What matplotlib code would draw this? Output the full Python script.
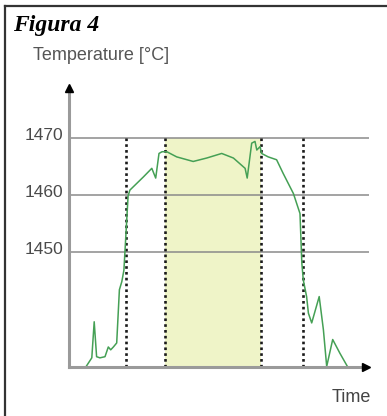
import matplotlib
matplotlib.use("Agg")
import matplotlib.pyplot as plt
from matplotlib.lines import Line2D
from matplotlib.transforms import ScaledTranslation

# Temperature curve (time in arbitrary units)
time = [5.6, 7.6, 8.4, 9.2, 10.3, 12.0, 13.1, 13.9, 14.8, 15.9,
        16.8, 17.6, 18.3, 19.7, 20.3, 24.8, 27.6, 28.9, 30.0, 31.0,
        32.6, 35.9, 41.4, 45.9, 50.9, 54.8, 58.7, 59.4, 60.9, 62.0,
        62.6, 63.7, 64.2, 66.4, 69.2, 71.4, 74.8, 77.0, 77.6, 78.1,
        79.2, 79.8, 80.9, 83.4, 84.8, 85.9, 87.9, 90.3, 92.8]
temp = [1430.0, 1431.6, 1437.9, 1431.8, 1431.6, 1431.8, 1433.5, 1433.0, 1433.5, 1434.2,
        1443.5, 1444.9, 1446.9, 1459.9, 1460.9, 1463.2, 1464.7, 1463.0, 1467.3, 1467.6,
        1467.6, 1466.7, 1465.9, 1466.5, 1467.3, 1466.5, 1464.7, 1463.0, 1469.1, 1469.4,
        1467.9, 1468.5, 1467.3, 1466.7, 1466.2, 1463.8, 1460.3, 1456.8, 1448.2, 1445.2,
        1442.3, 1439.4, 1437.7, 1442.3, 1436.5, 1430.1, 1434.8, 1432.4, 1430.1]

phases = [19, 32, 64, 78]          # dotted markers
plateau = (32, 64)                 # shaded interval
levels = [1450, 1460, 1470]
level_labels = ["1450", "1460", "1470"]

fig = plt.figure(figsize=(3.87, 4.16), dpi=100)
ax = fig.add_axes([69/387, 1 - 367/416, 300/387, 283.4/416])
ax.set_xlim(0, 100)
ax.set_ylim(1430, 1479.5)

# shaded plateau zone, only up to the top level
ax.fill_between(plateau, 1430, 1470, color="#eff4c8", lw=0, zorder=1)

# horizontal reference levels
ax.hlines(levels, 0, 100, color="#8a8a8a", lw=1.1, zorder=2)

# vertical dotted lines
ax.vlines(phases, 1430, 1470, color="#1a1a1a", lw=1.9,
          linestyles=[(0, (1, 1.2))], zorder=3)

ax.plot(time, temp, color="#45a055", lw=1.1, zorder=4)

# axes with arrows
for s in ax.spines.values():
    s.set_visible(False)
ax.plot([0, 0], [0, 0.985], transform=ax.transAxes, color="#9a9a9a", lw=2.2,
        clip_on=False, zorder=5)
ax.plot([0, 0.99], [0, 0], transform=ax.transAxes, color="#9a9a9a", lw=2.2,
        clip_on=False, zorder=5)
ax.plot(0, 0.985, marker="^", ms=6, color="black", transform=ax.transAxes,
        clip_on=False, zorder=6)
ax.plot(0.99, 0, marker=">", ms=6, color="black", transform=ax.transAxes,
        clip_on=False, zorder=6)

ax.set_xticks([])
ax.set_yticks(levels)
ax.set_yticklabels(level_labels, fontsize=12.5, family="Liberation Sans", color="#4a4a4a")
ax.tick_params(axis="y", length=0, pad=4)
for lab in ax.get_yticklabels():
    lab.set_transform(lab.get_transform() + ScaledTranslation(0, 4/100, fig.dpi_scale_trans))

# texts
fig.text(13/387, 1 - 31/416, "Figura 4", fontsize=17, family="Liberation Serif",
         weight="bold", style="italic", color="black")
fig.text(33/387, 1 - 60/416, "Temperature [°C]", fontsize=13,
         family="Liberation Sans", color="#555555")
fig.text(371/387, 1 - 402/416, "Time", fontsize=13, family="Liberation Sans",
         color="#444444", ha="right")

# frame (top and left edges)
fig.add_artist(Line2D([5/387, 1], [1 - 5.5/416, 1 - 5.5/416], color="#333333", lw=1.6))
fig.add_artist(Line2D([5/387, 5/387], [0, 1 - 5.5/416], color="#333333", lw=1.6))

plt.savefig("out.png", dpi=100)
